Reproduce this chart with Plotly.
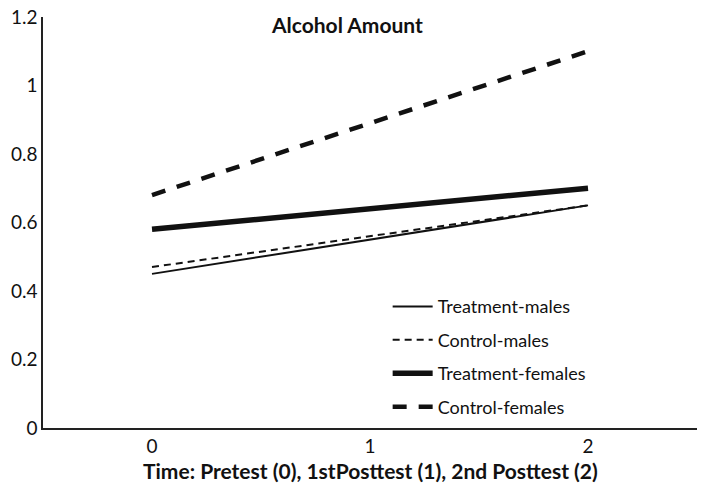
import plotly.graph_objects as go

time_points = [0, 1, 2]
treatment_males = [0.45, 0.55, 0.65]
control_males = [0.47, 0.56, 0.65]
treatment_females = [0.58, 0.64, 0.70]
control_females = [0.68, 0.89, 1.10]

series = [
    ("Treatment-males", treatment_males, dict(color="#111", width=2, dash="solid")),
    ("Control-males", control_males, dict(color="#111", width=2, dash="7px,5px")),
    ("Treatment-females", treatment_females, dict(color="#111", width=5.5, dash="solid")),
    ("Control-females", control_females, dict(color="#111", width=4.5, dash="14px,12px")),
]

fig = go.Figure()
for i, (name, vals, line) in enumerate(series):
    fig.add_trace(go.Scatter(x=time_points, y=vals, mode="lines", name=name,
                             line=line, legendgroup=str(i)))

font_family = "Lato, 'Liberation Sans', sans-serif"
fig.update_layout(
    width=708, height=495,
    margin=dict(l=43, r=11, t=17, b=67),
    paper_bgcolor="white", plot_bgcolor="white",
    font=dict(family=font_family, size=18, color="#111"),
    showlegend=True,
    legend=dict(x=0.527, y=0.34, xanchor="left", yanchor="top",
                bgcolor="rgba(0,0,0,0)", font=dict(size=18),
                tracegroupgap=7, itemwidth=40),
    annotations=[
        dict(text="<b>Alcohol Amount</b>", x=0.465, y=1.018, xref="paper", yref="paper",
             xanchor="center", yanchor="top", showarrow=False, font=dict(size=21)),
        dict(text="<b>Time: Pretest (0), 1stPosttest (1), 2nd Posttest (2)</b>",
             x=0.5, y=-0.068, xref="paper", yref="paper", xanchor="center", yanchor="top",
             showarrow=False, font=dict(size=21)),
    ],
)
fig.update_xaxes(range=[-0.5, 2.5], tickvals=time_points, ticktext=["0", "1", "2"],
                 showgrid=False, zeroline=False, showline=True, linecolor="#222", linewidth=1.5,
                 ticks="", tickfont=dict(size=19), automargin=False, ticklabeloverflow="allow")
fig.update_yaxes(range=[0, 1.2], tickvals=[0, 0.2, 0.4, 0.6, 0.8, 1, 1.2],
                 ticktext=["0", "0.2", "0.4", "0.6", "0.8", "1", "1.2"],
                 showgrid=False, zeroline=False, showline=True, linecolor="#222", linewidth=1.5,
                 ticks="", tickfont=dict(size=19), automargin=False, ticklabeloverflow="allow")

fig.write_html("out.html", config={"displayModeBar": False},
               post_script="document.body.style.margin='0';")
